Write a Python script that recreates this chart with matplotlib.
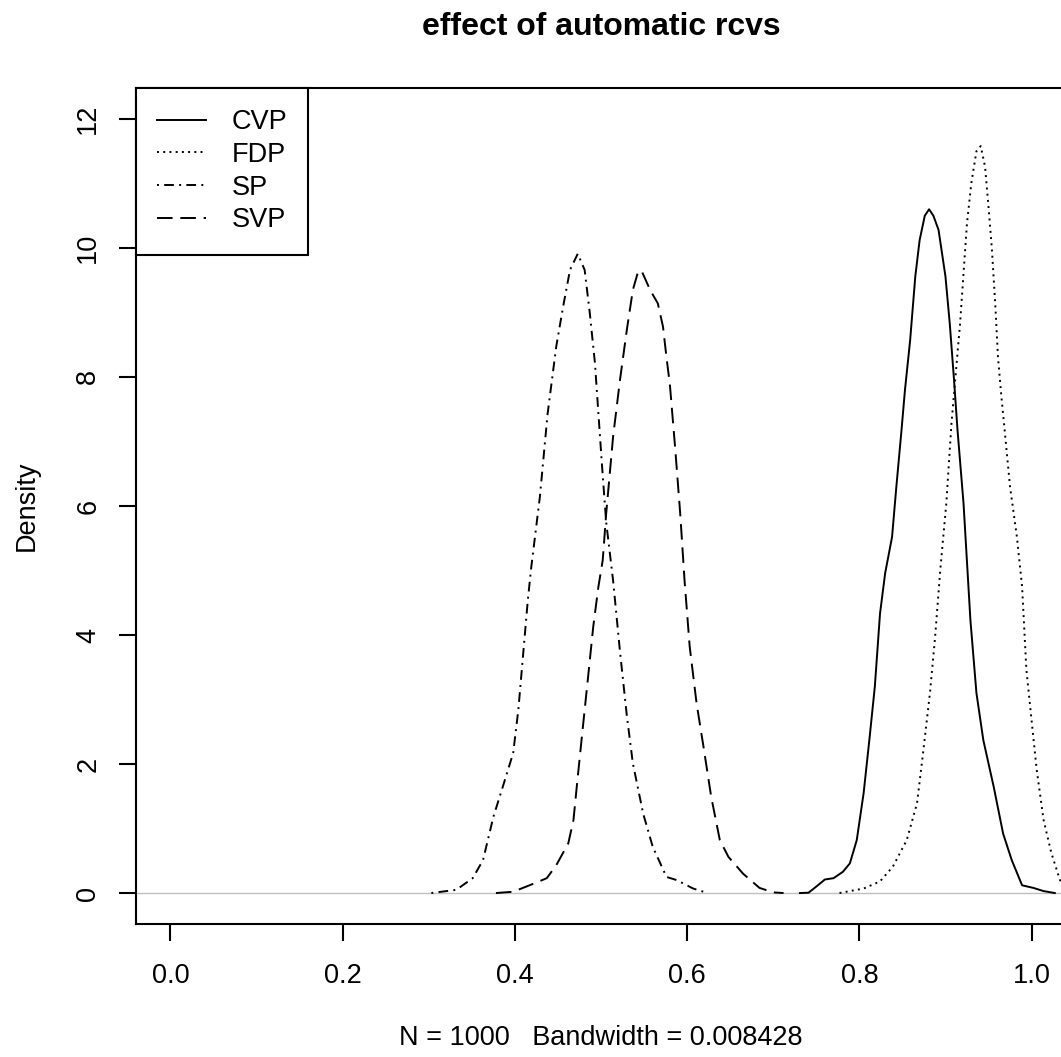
"""
Density of the four position estimates (CVP, FDP, SP, SVP), R plot.density look.
"""

import matplotlib.pyplot as plt

plt.rcParams["font.family"] = ["Liberation Sans", "DejaVu Sans"]

# values (x = estimate, y = density)
cvp_x = [0.731, 0.741, 0.750, 0.760, 0.770, 0.781, 0.789, 0.797, 0.805, 0.812,
         0.818, 0.824, 0.830, 0.838, 0.843, 0.849, 0.853, 0.859, 0.865, 0.870,
         0.876, 0.881, 0.886, 0.892, 0.900, 0.905, 0.910, 0.914, 0.921, 0.929,
         0.936, 0.944, 0.956, 0.967, 0.977, 0.989, 1.002, 1.014, 1.027]
cvp_y = [0.0, 0.005, 0.10, 0.21, 0.23, 0.33, 0.46, 0.82, 1.55, 2.42,
         3.20, 4.33, 4.96, 5.52, 6.30, 7.18, 7.80, 8.57, 9.56, 10.12,
         10.50, 10.60, 10.50, 10.28, 9.56, 8.83, 7.95, 7.18, 6.04, 4.23,
         3.10, 2.37, 1.65, 0.92, 0.51, 0.12, 0.08, 0.03, 0.0]

fdp_x = [0.777, 0.805, 0.824, 0.839, 0.855, 0.867, 0.874, 0.882, 0.888, 0.894,
         0.901, 0.907, 0.912, 0.917, 0.921, 0.925, 0.930, 0.936, 0.941, 0.946,
         0.950, 0.954, 0.958, 0.961, 0.965, 0.968, 0.975, 0.983, 0.989, 0.994,
         1.000, 1.006, 1.014, 1.023, 1.033, 1.045, 1.060]
fdp_y = [0.0, 0.07, 0.18, 0.41, 0.82, 1.39, 2.17, 3.10, 3.97, 5.01,
         6.04, 7.28, 8.06, 8.83, 9.61, 10.38, 11.00, 11.50, 11.58, 11.26,
         10.64, 9.97, 9.09, 8.31, 7.69, 7.28, 6.30, 5.52, 4.75, 3.46,
         2.68, 1.91, 1.13, 0.62, 0.20, 0.04, 0.0]

sp_x = [0.303, 0.332, 0.351, 0.363, 0.375, 0.386, 0.398, 0.404, 0.409, 0.415,
        0.419, 0.429, 0.438, 0.448, 0.456, 0.464, 0.473, 0.481, 0.487, 0.493,
        0.497, 0.501, 0.506, 0.514, 0.522, 0.530, 0.537, 0.549, 0.560, 0.576,
        0.588, 0.607, 0.624]
sp_y = [0.0, 0.05, 0.23, 0.51, 1.18, 1.65, 2.17, 2.84, 3.61, 4.54,
        5.05, 6.14, 7.43, 8.47, 9.09, 9.66, 9.91, 9.66, 8.99, 8.21,
        7.43, 6.66, 5.75, 4.85, 3.75, 2.75, 2.01, 1.23, 0.72, 0.25,
        0.20, 0.07, 0.0]

svp_x = [0.378, 0.398, 0.417, 0.437, 0.448, 0.462, 0.468, 0.473, 0.479, 0.485,
         0.491, 0.497, 0.502, 0.506, 0.514, 0.522, 0.530, 0.537, 0.543, 0.547,
         0.557, 0.566, 0.572, 0.576, 0.580, 0.586, 0.592, 0.597, 0.603, 0.611,
         0.619, 0.628, 0.638, 0.648, 0.665, 0.684, 0.700, 0.712]
svp_y = [0.0, 0.02, 0.12, 0.23, 0.43, 0.77, 1.13, 1.80, 2.58, 3.35,
         4.13, 4.75, 5.16, 5.88, 7.07, 7.95, 8.73, 9.35, 9.63, 9.65,
         9.35, 9.14, 8.78, 8.31, 7.88, 6.92, 5.88, 4.85, 3.82, 2.94,
         2.27, 1.49, 0.82, 0.56, 0.30, 0.08, 0.01, 0.0]

x_ticks = [0.0, 0.2, 0.4, 0.6, 0.8, 1.0]
y_ticks = [0, 2, 4, 6, 8, 10, 12]

FS = 19.5
LW = 1.4
series = [
    ("CVP", cvp_x, cvp_y, "-"),
    ("FDP", fdp_x, fdp_y, (0, (1, 2.2))),
    ("SP", sp_x, sp_y, (0, (1, 2.7, 5, 2.7))),
    ("SVP", svp_x, svp_y, (0, (8, 4))),
]

fig = plt.figure(figsize=(10.61, 10.57), dpi=100)
ax = fig.add_axes([136 / 1061, 133 / 1057, 930 / 1061, 836 / 1057])

ax.axhline(0, color="#BEBEBE", lw=1.0, zorder=1)
for name, xs, ys, style in series:
    ax.plot(xs, ys, color="black", lw=LW, linestyle=style, label=name, zorder=2)

ax.set_xlim(-0.04, 1.04)
ax.set_ylim(-0.48, 12.48)
ax.set_xticks(x_ticks)
ax.set_xticklabels([f"{t:.1f}" for t in x_ticks])
ax.set_yticks(y_ticks)
ax.set_yticklabels([str(t) for t in y_ticks], rotation=90, va="center")
ax.tick_params(axis="both", length=12, width=1.5, labelsize=FS, color="black")
ax.tick_params(axis="x", pad=16)
ax.tick_params(axis="y", pad=13)
for spine in ax.spines.values():
    spine.set_linewidth(1.5)

ax.set_ylabel("Density", fontsize=FS)
ax.yaxis.set_label_coords(-0.103, 0.5)
ax.set_xlabel("N = 1000   Bandwidth = 0.008428", fontsize=FS)
ax.xaxis.set_label_coords(0.5, -0.121)

fig.text(ax.get_position().x0 + ax.get_position().width / 2, 1 - 35 / 1057,
         "effect of automatic rcvs", ha="center", va="baseline",
         fontsize=23, fontweight="bold")

leg = ax.legend(loc="upper left", bbox_to_anchor=(0, 1), borderaxespad=0,
                fontsize=FS, frameon=True, fancybox=False, framealpha=1,
                edgecolor="black", handlelength=1.8, handletextpad=0.95,
                labelspacing=0.25, borderpad=0.78)
leg.get_frame().set_linewidth(1.5)

fig.savefig("out.png", dpi=100)
